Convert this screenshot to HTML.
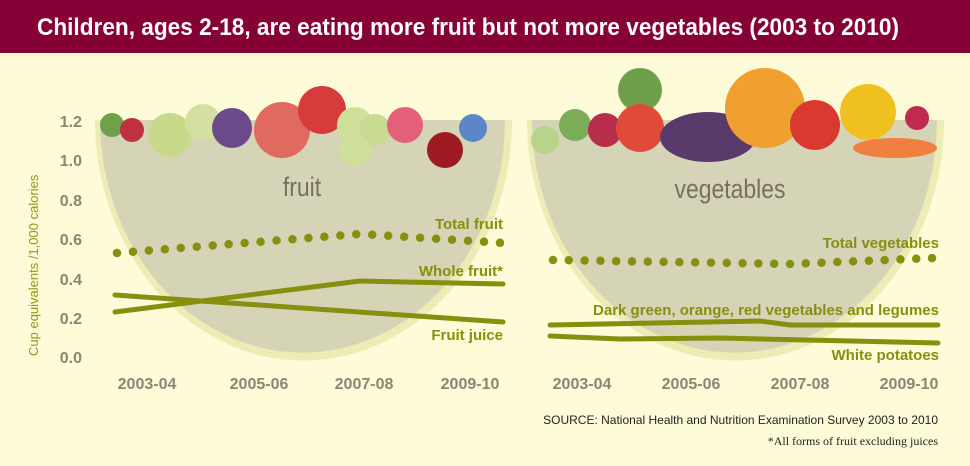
<!DOCTYPE html>
<html><head><meta charset="utf-8"><style>
html,body{margin:0;padding:0;background:#fdfbd8;}
svg{display:block}
text{font-family:"Liberation Sans",sans-serif;}
</style></head><body>
<svg width="970" height="466" viewBox="0 0 970 466" xmlns="http://www.w3.org/2000/svg">
<rect width="970" height="466" fill="#fdfbd8"/>
<rect width="970" height="53" fill="#850034"/>
<text x="37" y="35" fill="#fff" font-size="24" font-weight="bold" textLength="862" lengthAdjust="spacingAndGlyphs">Children, ages 2-18, are eating more fruit but not more vegetables (2003 to 2010)</text>
<!-- bowls -->
<path d="M95 120 L512 120 A208 240 0 0 1 95 120 Z" fill="#ecedb4"/>
<path d="M100 120 L505 120 A202 232 0 0 1 100 120 Z" fill="#d6d4b6"/>
<path d="M527 120 L944 120 A208 240 0 0 1 527 120 Z" fill="#ecedb4"/>
<path d="M532 120 L937 120 A202 232 0 0 1 532 120 Z" fill="#d6d4b6"/>
<!-- fruits -->
<g>
<circle cx="112" cy="125" r="12" fill="#6fa04a"/>
<circle cx="132" cy="130" r="12" fill="#c0303e"/>
<circle cx="170" cy="135" r="22" fill="#c9d98a"/>
<circle cx="203" cy="122" r="18" fill="#d4e0a0"/>
<circle cx="232" cy="128" r="20" fill="#6c4a8a"/>
<circle cx="282" cy="130" r="28" fill="#e06a60"/>
<circle cx="322" cy="110" r="24" fill="#d63c3c"/>
<circle cx="355" cy="125" r="18" fill="#cfe09a"/>
<circle cx="375" cy="130" r="16" fill="#c8db90"/>
<circle cx="355" cy="150" r="16" fill="#cfe09a"/>
<circle cx="405" cy="125" r="18" fill="#e4607a"/>
<circle cx="445" cy="150" r="18" fill="#9c1a22"/>
<circle cx="473" cy="128" r="14" fill="#5c86c8"/>
<circle cx="545" cy="140" r="14" fill="#b8d48a"/>
<circle cx="575" cy="125" r="16" fill="#7cad58"/>
<circle cx="640" cy="90" r="22" fill="#6ea04c"/>
<circle cx="605" cy="130" r="17" fill="#b82c4c"/>
<circle cx="640" cy="128" r="24" fill="#e04a38"/>
<ellipse cx="708" cy="137" rx="48" ry="25" fill="#5a3a6a"/>
<circle cx="765" cy="108" r="40" fill="#f0a030"/>
<circle cx="815" cy="125" r="25" fill="#d83a30"/>
<circle cx="868" cy="112" r="28" fill="#f0c020"/>
<ellipse cx="895" cy="148" rx="42" ry="10" fill="#f08040"/>
<circle cx="917" cy="118" r="12" fill="#c02a50"/>
</g>
<text x="302" y="196" fill="#76715e" font-size="27" text-anchor="middle" transform="translate(302 196) scale(0.85 1) translate(-302 -196)">fruit</text>
<text x="730" y="198" fill="#76715e" font-size="27" text-anchor="middle" transform="translate(730 198) scale(0.85 1) translate(-730 -198)">vegetables</text>
<!-- y axis -->
<g fill="#8a8672" font-size="16" font-weight="bold" text-anchor="end">
<text x="82" y="127">1.2</text><text x="82" y="166">1.0</text><text x="82" y="206">0.8</text>
<text x="82" y="245">0.6</text><text x="82" y="285">0.4</text><text x="82" y="324">0.2</text><text x="82" y="363">0.0</text>
</g>
<text transform="translate(38 356) rotate(-90)" fill="#8a9a1a" font-size="13">Cup equivalents /1,000 calories</text>
<!-- x labels -->
<g fill="#8a8672" font-size="16" font-weight="bold" text-anchor="middle">
<text x="147" y="389">2003-04</text><text x="259" y="389">2005-06</text><text x="364" y="389">2007-08</text><text x="470" y="389">2009-10</text>
<text x="582" y="389">2003-04</text><text x="691" y="389">2005-06</text><text x="800" y="389">2007-08</text><text x="909" y="389">2009-10</text>
</g>
<g stroke="#86900e" fill="none" stroke-linecap="round">
<path d="M117 253 L360 234 L503 243" stroke-width="8.5" stroke-dasharray="0 16"/>
<path d="M115 312 L360 281 L503 284" stroke-width="5"/>
<path d="M115 295 L503 322" stroke-width="5"/>
<path d="M553 260 L790 264 L935 258" stroke-width="8.5" stroke-dasharray="0 15.8"/>
<path d="M550 325 L760 321 L790 325 L938 325" stroke-width="5"/>
<path d="M550 336 L620 339 L720 338 L938 343" stroke-width="5"/>
</g>
<g fill="#86900e" font-size="15" font-weight="bold" text-anchor="end">
<text x="503" y="229">Total fruit</text>
<text x="503" y="276">Whole fruit*</text>
<text x="503" y="340">Fruit juice</text>
<text x="939" y="248">Total vegetables</text>
<text x="939" y="315">Dark green, orange, red vegetables and legumes</text>
<text x="939" y="360">White potatoes</text>
</g>
<text x="938" y="424" fill="#222" font-size="12" text-anchor="end">SOURCE: National Health and Nutrition Examination Survey 2003 to 2010</text>
<text x="938" y="445" fill="#222" font-size="12" text-anchor="end" style="font-family:'Liberation Serif',serif">*All forms of fruit excluding juices</text>
</svg>
</body></html>
